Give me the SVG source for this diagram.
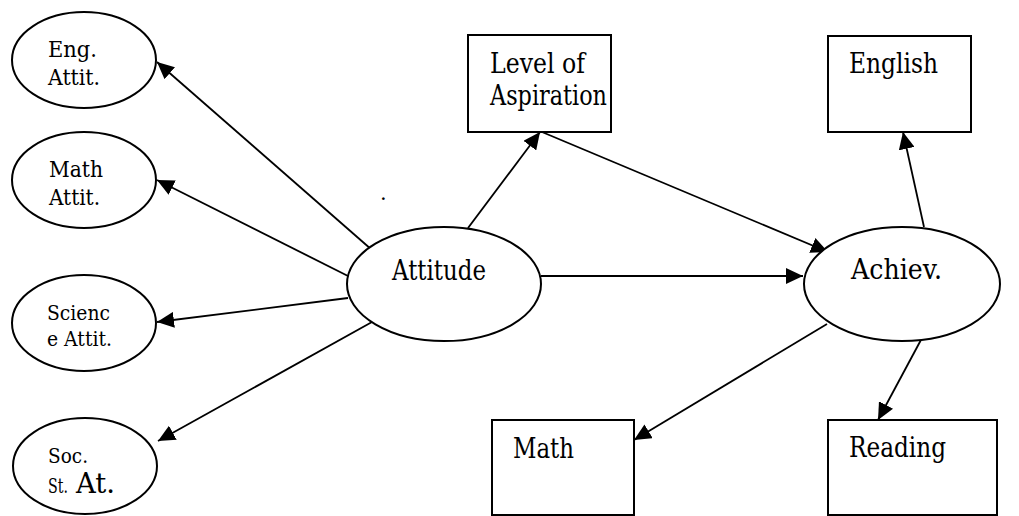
<svg xmlns="http://www.w3.org/2000/svg" width="1019" height="516" viewBox="0 0 1019 516">
<style>
.shape{fill:#fff;stroke:#000;stroke-width:2}
.edge{fill:none;stroke:#000;stroke-width:1.8;marker-end:url(#ah)}
text{fill:#000;font-family:"DejaVu Serif","Liberation Serif",serif}
.big{font-size:27px}
.mid{font-size:23px}
.sm{font-size:21px}
</style>
<defs>
<marker id="ah" markerUnits="userSpaceOnUse" markerWidth="18" markerHeight="16" refX="17" refY="8" orient="auto">
<path d="M0,0 L17,8 L0,16 z" fill="#000"/>
</marker>
</defs>
<rect width="1019" height="516" fill="#fff"/>
<g id="connectors">
<line class="edge" x1="372" y1="250" x2="157" y2="62"/>
<line class="edge" x1="348" y1="276" x2="157" y2="180"/>
<line class="edge" x1="348" y1="298" x2="157" y2="322"/>
<line class="edge" x1="372" y1="322" x2="158" y2="441"/>
<line class="edge" x1="468" y1="228" x2="540" y2="132"/>
<line class="edge" x1="542" y1="132" x2="828" y2="252"/>
<line class="edge" x1="541" y1="276" x2="803" y2="276"/>
<line class="edge" x1="924" y1="227" x2="903" y2="132"/>
<line class="edge" x1="827" y1="324" x2="634" y2="440"/>
<line class="edge" x1="922" y1="338" x2="878" y2="420"/>
</g>
<g id="eng-attit">
<ellipse class="shape" cx="84" cy="60" rx="72" ry="48"/>
<text class="mid" x="48" y="57" textLength="49" lengthAdjust="spacingAndGlyphs">Eng.</text>
<text class="mid" x="48" y="85" textLength="52" lengthAdjust="spacingAndGlyphs">Attit.</text>
</g>
<g id="math-attit">
<ellipse class="shape" cx="84" cy="180" rx="72" ry="48"/>
<text class="mid" x="49" y="177" textLength="54" lengthAdjust="spacingAndGlyphs">Math</text>
<text class="mid" x="49" y="205" textLength="51" lengthAdjust="spacingAndGlyphs">Attit.</text>
</g>
<g id="science-attit">
<ellipse class="shape" cx="84" cy="323" rx="72" ry="48"/>
<text class="sm" x="47" y="320" textLength="63" lengthAdjust="spacingAndGlyphs">Scienc</text>
<text class="sm" x="47" y="346" textLength="65" lengthAdjust="spacingAndGlyphs">e Attit.</text>
</g>
<g id="soc-st-at">
<ellipse class="shape" cx="85" cy="466" rx="72" ry="48"/>
<text class="sm" x="48" y="463" textLength="40" lengthAdjust="spacingAndGlyphs">Soc.</text>
<text class="sm" x="48" y="493" textLength="20" lengthAdjust="spacingAndGlyphs">St.</text>
<text class="big" x="76" y="493" textLength="39" lengthAdjust="spacingAndGlyphs">At.</text>
</g>
<g id="attitude">
<ellipse class="shape" cx="444" cy="284" rx="97" ry="57"/>
<text class="big" x="392" y="280" textLength="94" lengthAdjust="spacingAndGlyphs">Attitude</text>
</g>
<g id="level-of-aspiration">
<rect class="shape" x="468" y="35" width="143" height="97"/>
<text class="big" x="490" y="73" textLength="95" lengthAdjust="spacingAndGlyphs">Level of</text>
<text class="big" x="490" y="105" textLength="117" lengthAdjust="spacingAndGlyphs">Aspiration</text>
</g>
<g id="achiev">
<ellipse class="shape" cx="902" cy="284" rx="98" ry="57"/>
<text class="big" x="851" y="279" textLength="91" lengthAdjust="spacingAndGlyphs">Achiev.</text>
</g>
<g id="english">
<rect class="shape" x="828" y="36" width="143" height="96"/>
<text class="big" x="849" y="73" textLength="89" lengthAdjust="spacingAndGlyphs">English</text>
</g>
<g id="math">
<rect class="shape" x="492" y="420" width="142" height="95"/>
<text class="big" x="513" y="458" textLength="61" lengthAdjust="spacingAndGlyphs">Math</text>
</g>
<g id="reading">
<rect class="shape" x="828" y="420" width="169" height="95"/>
<text class="big" x="849" y="457" textLength="97" lengthAdjust="spacingAndGlyphs">Reading</text>
</g>
<text class="sm" x="380" y="200">.</text>
</svg>
